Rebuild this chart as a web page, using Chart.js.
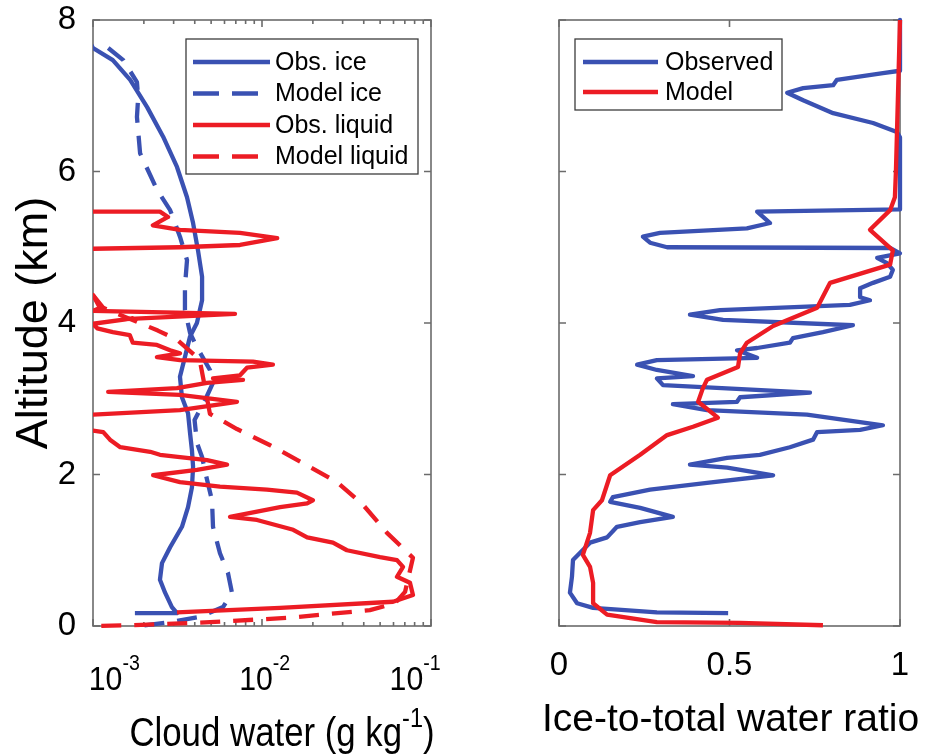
<!DOCTYPE html>
<html>
<head>
<meta charset="utf-8">
<script src="https://cdn.jsdelivr.net/npm/chart.js@4.4.1/dist/chart.umd.min.js"></script>
<style>
  html, body { margin: 0; padding: 0; background: #fff; }
  #wrap { position: relative; width: 933px; height: 756px; overflow: hidden; }
  #left { position: absolute; left: 0; top: 0; }
  #right { position: absolute; left: 470px; top: 0; }
</style>
</head>
<body>
<div id="wrap">
  <canvas id="left" width="470" height="756"></canvas>
  <canvas id="right" width="463" height="756"></canvas>
</div>
<script>
// ---- Tick labels ----
const altTicks = [0, 2, 4, 6, 8];
const cloudTicks = [0.001, 0.01, 0.1];
const cloudTickExp = ['-3', '-2', '-1'];
const ratioTicks = [0, 0.5, 1];

// ---- Cloud water profiles (g/kg) vs altitude (km) ----
const obsIceAlt = [7.72, 7.63, 7.47, 7.21, 6.85, 6.46, 6.06, 5.66, 5.32, 4.96, 4.61, 4.30, 4.00, 3.82, 3.55, 3.29, 3.02, 2.81, 2.55, 2.32, 2.10, 1.83, 1.57, 1.31, 1.04, 0.83, 0.61, 0.44, 0.25, 0.17, 0.17];
const obsIceVal = [0.00095, 0.00100, 0.00131, 0.00166, 0.00209, 0.00260, 0.00314, 0.00360, 0.00391, 0.00418, 0.00442, 0.00442, 0.00412, 0.00375, 0.00350, 0.00327, 0.00336, 0.00365, 0.00375, 0.00385, 0.00391, 0.00385, 0.00365, 0.00336, 0.00286, 0.00256, 0.00249, 0.00267, 0.00293, 0.00314, 0.00177];

const modelIceAlt = [7.63, 7.47, 7.18, 6.98, 6.72, 6.24, 5.76, 5.49, 5.14, 4.83, 4.48, 4.17, 3.87, 3.68, 3.38, 3.21, 2.98, 2.72, 2.42, 2.23, 1.93, 1.66, 1.31, 0.96, 0.70, 0.44, 0.25, 0.12, 0.05, 0.00];
const modelIceVal = [0.00123, 0.00151, 0.00182, 0.00185, 0.00182, 0.00190, 0.00239, 0.00286, 0.00327, 0.00360, 0.00350, 0.00350, 0.00375, 0.00412, 0.00492, 0.00513, 0.00460, 0.00399, 0.00412, 0.00442, 0.00473, 0.00506, 0.00513, 0.00564, 0.00629, 0.00664, 0.00588, 0.00430, 0.00286, 0.00190];

const obsLiqAlt = [5.47, 5.47, 5.40, 5.29, 5.23, 5.19, 5.12, 5.03, 5.00, 4.98, 4.97,
  4.40, 4.37, 4.20, 4.16, 4.12, 4.05, 4.06, 3.99, 3.93, 3.88, 3.84, 3.74, 3.71, 3.64, 3.60, 3.55, 3.51, 3.49, 3.45, 3.41, 3.31, 3.27, 3.25, 3.21, 3.14, 3.09, 3.05, 2.96, 2.85, 2.79, 2.78,
  2.60, 2.58, 2.56, 2.46, 2.36, 2.30, 2.26, 2.23, 2.19, 2.13, 2.06, 1.99, 1.90, 1.84, 1.80, 1.76, 1.66, 1.62, 1.57, 1.44, 1.40, 1.27, 1.17, 1.10, 1.00, 0.91, 0.87, 0.78, 0.65, 0.57, 0.41, 0.32, 0.24, 0.18];
const obsLiqVal = [0.0005, 0.00249, 0.00278, 0.00226, 0.00327, 0.00741, 0.0123, 0.00741, 0.00327, 0.00100, 0.0005,
  0.0005, 0.00100, 0.00110, 0.00100, 0.00692, 0.00155, 0.00172, 0.00100, 0.00106, 0.00131, 0.00165, 0.00172, 0.00239, 0.00286, 0.00327, 0.00239, 0.00327, 0.00885, 0.0116, 0.00815, 0.00741, 0.00513, 0.00772, 0.00473, 0.00314, 0.00123, 0.00327, 0.00711, 0.00327, 0.00100, 0.0005,
  0.0005, 0.00100, 0.00115, 0.00126, 0.00145, 0.00218, 0.00249, 0.00327, 0.00473, 0.00621, 0.00412, 0.00227, 0.00327, 0.00564, 0.0107, 0.0161, 0.0200, 0.0185, 0.0128, 0.00647, 0.00934, 0.0153, 0.0185, 0.0263, 0.0318, 0.0499, 0.0629, 0.0683, 0.0629, 0.0751, 0.0782, 0.0596, 0.0128, 0.00314];

const modelLiqAlt = [4.37, 4.20, 3.90, 3.78, 3.55, 3.49, 2.80, 2.60, 2.39, 2.15, 1.90, 1.60, 1.23, 0.90, 0.45, 0.30, 0.21, 0.11, 0.05, 0.01, 0.00];
const modelLiqVal = [0.00100, 0.00115, 0.00242, 0.00314, 0.00412, 0.00430, 0.00492, 0.00711, 0.0111, 0.0175, 0.0278, 0.0396, 0.0549, 0.0782, 0.0702, 0.0612, 0.0435, 0.0147, 0.00492, 0.00165, 0.00100];

// ---- Ice-to-total water ratio vs altitude (km) ----
const obsRatioAlt = [8.00, 7.33, 7.30, 7.21, 7.14, 7.10, 7.04, 6.94, 6.77, 6.64, 6.52, 6.45, 5.50,
  5.47, 5.32, 5.25, 5.19, 5.14, 5.06, 5.00, 4.99, 4.92, 4.86, 4.79, 4.70, 4.61, 4.53, 4.46, 4.34, 4.30, 4.24, 4.17, 4.11, 4.04, 3.97,
  3.88, 3.80, 3.74, 3.67, 3.64, 3.54, 3.51, 3.45, 3.38, 3.30, 3.27, 3.18, 3.08, 3.02, 2.96, 2.93, 2.85, 2.79, 2.69, 2.65, 2.59, 2.56, 2.46, 2.36, 2.26, 2.22, 2.13, 2.09, 1.99, 1.89, 1.80, 1.70, 1.64, 1.56, 1.44, 1.37, 1.31, 1.17, 1.10, 0.87, 0.65, 0.44, 0.30, 0.24, 0.18, 0.17];
const obsRatioVal = [1.000, 1.000, 0.950, 0.815, 0.804, 0.716, 0.669, 0.716, 0.804, 0.921, 0.991, 1.000, 1.000,
  0.581, 0.619, 0.551, 0.296, 0.246, 0.267, 0.317, 0.971, 1.000, 0.933, 0.962, 0.979, 0.971, 0.921, 0.883, 0.883, 0.912, 0.853, 0.472, 0.384, 0.481, 0.862,
  0.774, 0.686, 0.677, 0.581, 0.522, 0.581, 0.287, 0.229, 0.287, 0.393, 0.287, 0.305, 0.736, 0.531, 0.522, 0.334, 0.434, 0.727, 0.883, 0.950, 0.883, 0.757, 0.745, 0.677, 0.589, 0.493, 0.384, 0.493, 0.628, 0.434, 0.267, 0.158, 0.150, 0.238, 0.334, 0.238, 0.170, 0.141, 0.091, 0.041, 0.038, 0.032, 0.053, 0.100, 0.287, 0.496];

const modelRatioAlt = [8.00, 7.00, 6.00, 5.66, 5.49, 5.23, 4.96, 4.77, 4.53, 4.20, 3.96, 3.74, 3.60, 3.42, 3.25, 3.14, 2.96, 2.75, 2.63, 2.52, 2.26, 1.99, 1.66, 1.53, 1.23, 0.94, 0.78, 0.57, 0.30, 0.15, 0.05, 0.04, 0.01];
const modelRatioVal = [1.000, 0.994, 0.988, 0.985, 0.971, 0.912, 0.979, 0.971, 0.795, 0.757, 0.628, 0.551, 0.531, 0.525, 0.434, 0.422, 0.408, 0.466, 0.393, 0.317, 0.238, 0.150, 0.126, 0.100, 0.091, 0.070, 0.091, 0.100, 0.100, 0.141, 0.287, 0.531, 0.774];

const FONT = "'Liberation Sans', Arial, Helvetica, sans-serif";
const BLUE = '#3a51b2';
const RED = '#ec1c24';
const FRAME = '#6b6b6b';
const DASH = [20, 13];

function pairs(vals, alts) {
  return vals.map((v, i) => ({ x: v, y: alts[i] }));
}

function series(label, vals, alts, color, dashed, order) {
  return {
    label,
    data: pairs(vals, alts),
    showLine: true,
    borderColor: color,
    backgroundColor: color,
    borderWidth: 4.3,
    borderDash: dashed ? DASH : [],
    borderCapStyle: 'butt',
    borderJoinStyle: 'round',
    pointRadius: 0,
    tension: 0,
    order,
    clip: { left: 0, top: 3, right: 4, bottom: 3 },
    dashed
  };
}

// keep the plot box exactly where the layout padding puts it
function noEdgePadding(s) {
  s.paddingTop = 0; s.paddingBottom = 0; s.paddingLeft = 0; s.paddingRight = 0;
}

// Box, inward tick marks
function framePlugin(xTickVals, xMinorVals) {
  return {
    id: 'frame',
    beforeDatasetsDraw(chart) {
      const { ctx, chartArea: a, scales } = chart;
      ctx.save();
      ctx.strokeStyle = FRAME;
      ctx.lineWidth = 1.6;
      ctx.strokeRect(a.left, a.top, a.right - a.left, a.bottom - a.top);
      ctx.beginPath();
      const major = 7, minor = 4;
      altTicks.forEach(v => {
        const y = scales.y.getPixelForValue(v);
        ctx.moveTo(a.left, y); ctx.lineTo(a.left + major, y);
        ctx.moveTo(a.right, y); ctx.lineTo(a.right - major, y);
      });
      xTickVals.forEach(v => {
        const x = scales.x.getPixelForValue(v);
        ctx.moveTo(x, a.bottom); ctx.lineTo(x, a.bottom - major);
        ctx.moveTo(x, a.top); ctx.lineTo(x, a.top + major);
      });
      xMinorVals.forEach(v => {
        const x = scales.x.getPixelForValue(v);
        ctx.moveTo(x, a.bottom); ctx.lineTo(x, a.bottom - minor);
        ctx.moveTo(x, a.top); ctx.lineTo(x, a.top + minor);
      });
      ctx.stroke();
      ctx.restore();
    }
  };
}

// Boxed legend inside the axes
function boxLegendPlugin(box) {
  return {
    id: 'boxLegend',
    afterDatasetsDraw(chart) {
      const { ctx } = chart;
      const sets = chart.data.datasets;
      ctx.save();
      ctx.fillStyle = '#fff';
      ctx.fillRect(box.x, box.y, box.w, box.h);
      ctx.strokeStyle = '#3c3c3c';
      ctx.lineWidth = 1.3;
      ctx.strokeRect(box.x, box.y, box.w, box.h);
      ctx.font = box.fontSize + 'px ' + FONT;
      ctx.textBaseline = 'middle';
      ctx.fillStyle = '#000';
      sets.forEach((ds, i) => {
        const y = box.y + box.first + i * box.step;
        ctx.beginPath();
        ctx.strokeStyle = ds.borderColor;
        ctx.lineWidth = 4.3;
        ctx.lineCap = 'butt';
        ctx.setLineDash(ds.dashed ? [26, 13] : []);
        ctx.moveTo(box.x + box.lineStart, y);
        ctx.lineTo(box.x + box.lineEnd, y);
        ctx.stroke();
        ctx.setLineDash([]);
        ctx.fillText(ds.label, box.x + box.textX, y + 1);
      });
      ctx.restore();
    }
  };
}

// Power-of-ten tick labels and the unit title of the log axis,
// set in a condensed row under the panel
const logAxisText = {
  id: 'logAxisText',
  afterDraw(chart) {
    const { ctx, scales, chartArea: a } = chart;
    const mid = (a.left + a.right) / 2;
    const squeeze = 0.89;
    ctx.save();
    ctx.fillStyle = '#000';
    ctx.textBaseline = 'alphabetic';
    ctx.textAlign = 'left';
    ctx.translate(mid, 0);
    ctx.scale(squeeze, 1);
    cloudTicks.forEach((v, i) => {
      const x = (scales.x.getPixelForValue(v) - mid);
      ctx.font = '34px ' + FONT;
      const wBase = ctx.measureText('10').width;
      ctx.font = '22px ' + FONT;
      const wExp = ctx.measureText(cloudTickExp[i]).width;
      const start = x - (wBase + wExp) / 2 + 3;
      ctx.font = '34px ' + FONT;
      ctx.fillText('10', start, a.bottom + 64);
      ctx.font = '22px ' + FONT;
      ctx.fillText(cloudTickExp[i], start + wBase, a.bottom + 44);
    });
    ctx.restore();

    // axis title with superscript unit
    const main = 'Cloud water (g kg';
    const sup = '-1';
    const close = ')';
    ctx.save();
    ctx.fillStyle = '#000';
    ctx.textBaseline = 'alphabetic';
    ctx.textAlign = 'left';
    ctx.translate(282, 0);
    ctx.scale(0.87, 1);
    ctx.font = '40px ' + FONT;
    const w1 = ctx.measureText(main).width;
    const w3 = ctx.measureText(close).width;
    ctx.font = '27px ' + FONT;
    const w2 = ctx.measureText(sup).width;
    const x0 = -(w1 + w2 + w3) / 2;
    const base = 746;
    ctx.font = '40px ' + FONT;
    ctx.fillText(main, x0, base);
    ctx.font = '27px ' + FONT;
    ctx.fillText(sup, x0 + w1, base - 19);
    ctx.font = '40px ' + FONT;
    ctx.fillText(close, x0 + w1 + w2, base);
    ctx.restore();
  }
};

// Title of the ratio axis, allowed to run wider than the plot box
const ratioTitle = {
  id: 'ratioTitle',
  afterDraw(chart) {
    const { ctx, chartArea: a } = chart;
    ctx.save();
    ctx.fillStyle = '#000';
    ctx.font = '39px ' + FONT;
    ctx.textAlign = 'center';
    ctx.textBaseline = 'alphabetic';
    ctx.fillText('Ice-to-total water ratio', (a.left + a.right) / 2 + 1, 731);
    ctx.restore();
  }
};

const baseOpts = {
  responsive: false,
  animation: false,
  events: [],
  plugins: { legend: { display: false }, tooltip: { enabled: false } }
};

// ---- Left panel: cloud water ----
new Chart(document.getElementById('left'), {
  type: 'scatter',
  data: {
    datasets: [
      series('Obs. ice', obsIceVal, obsIceAlt, BLUE, false, 4),
      series('Model ice', modelIceVal, modelIceAlt, BLUE, true, 3),
      series('Obs. liquid', obsLiqVal, obsLiqAlt, RED, false, 2),
      series('Model liquid', modelLiqVal, modelLiqAlt, RED, true, 1)
    ]
  },
  options: {
    ...baseOpts,
    layout: { padding: { top: 20, right: 39, left: 0, bottom: 0 } },
    scales: {
      x: {
        type: 'logarithmic', min: 0.001, max: 0.1,
        ticks: { display: false },
        grid: { display: false, drawTicks: false }, border: { display: false },
        afterFit(s) { s.height = 130; noEdgePadding(s); }
      },
      y: {
        type: 'linear', min: 0, max: 8,
        afterBuildTicks(s) { s.ticks = altTicks.map(v => ({ value: v })); },
        ticks: { font: { family: FONT, size: 33 }, color: '#000', padding: 17, autoSkip: false },
        grid: { display: false, drawTicks: false }, border: { display: false },
        title: { display: true, text: 'Altitude (km)', color: '#000', font: { family: FONT, size: 45 }, padding: { top: 8, bottom: 0 } },
        afterFit(s) { s.width = 93; noEdgePadding(s); }
      }
    }
  },
  plugins: [
    framePlugin(cloudTicks, [0.002, 0.003, 0.004, 0.005, 0.006, 0.007, 0.008, 0.009, 0.02, 0.03, 0.04, 0.05, 0.06, 0.07, 0.08, 0.09]),
    boxLegendPlugin({ x: 186, y: 39, w: 232, h: 135, first: 23, step: 31.5, lineStart: 7, lineEnd: 84, textX: 89, fontSize: 25 }),
    logAxisText
  ]
});

// ---- Right panel: ice-to-total ratio ----
new Chart(document.getElementById('right'), {
  type: 'scatter',
  data: {
    datasets: [
      series('Observed', obsRatioVal, obsRatioAlt, BLUE, false, 2),
      series('Model', modelRatioVal, modelRatioAlt, RED, false, 1)
    ]
  },
  options: {
    ...baseOpts,
    layout: { padding: { top: 20, right: 33, left: 0, bottom: 0 } },
    scales: {
      x: {
        type: 'linear', min: 0, max: 1,
        afterBuildTicks(s) { s.ticks = ratioTicks.map(v => ({ value: v })); },
        ticks: { font: { family: FONT, size: 33 }, color: '#000', padding: 20, autoSkip: false, maxRotation: 0, callback: v => String(v) },
        grid: { display: false, drawTicks: false }, border: { display: false },
        afterFit(s) { s.height = 130; noEdgePadding(s); }
      },
      y: {
        type: 'linear', min: 0, max: 8,
        afterBuildTicks(s) { s.ticks = altTicks.map(v => ({ value: v })); },
        ticks: { display: false },
        grid: { display: false, drawTicks: false }, border: { display: false },
        afterFit(s) { s.width = 89; noEdgePadding(s); }
      }
    }
  },
  plugins: [
    framePlugin(ratioTicks, []),
    boxLegendPlugin({ x: 105, y: 39, w: 207, h: 71, first: 23, step: 30, lineStart: 8, lineEnd: 83, textX: 90, fontSize: 25 }),
    ratioTitle
  ]
});
</script>
</body>
</html>
